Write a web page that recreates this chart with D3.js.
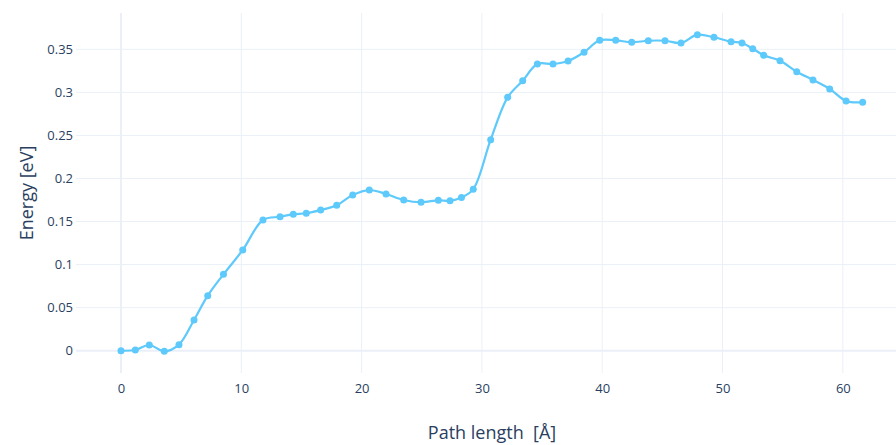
<!DOCTYPE html>
<html>
<head>
<meta charset="utf-8">
<script src="https://cdn.jsdelivr.net/npm/d3@7"></script>
<style>
  body { margin: 0; background: #fff; }
  #chart { width: 896px; height: 445px; }
  text { font-family: "Open Sans", sans-serif; fill: #2a3f5f; }
</style>
</head>
<body>
<div id="chart"></div>
<script>
// path length along the reaction coordinate [Å]
const pathLength = [0, 1.19, 2.35, 3.60, 4.82, 6.07, 7.21, 8.52, 10.12, 11.80,
  13.22, 14.32, 15.40, 16.60, 17.93, 19.26, 20.64, 22.03, 23.50, 24.94,
  26.38, 27.35, 28.30, 29.28, 30.73, 32.14, 33.39, 34.61, 35.91, 37.16,
  38.49, 39.79, 41.12, 42.45, 43.83, 45.22, 46.55, 47.91, 49.29, 50.71,
  51.62, 52.51, 53.42, 54.78, 56.17, 57.52, 58.91, 60.27, 61.65];
// energy [eV]
const energy = [0, 0.0008, 0.0066, -0.0007, 0.0070, 0.0357, 0.0639, 0.0887, 0.117, 0.1518,
  0.1556, 0.1584, 0.1596, 0.1634, 0.1689, 0.1808, 0.1866, 0.182, 0.175, 0.1724,
  0.1747, 0.1742, 0.1779, 0.1876, 0.2451, 0.2943, 0.3136, 0.333, 0.333, 0.3365,
  0.3466, 0.3605, 0.3605, 0.3582, 0.3600, 0.3600, 0.3574, 0.367, 0.364, 0.3589,
  0.3574, 0.3508, 0.3431, 0.3368, 0.324, 0.3144, 0.304, 0.290, 0.2885];
const xTicks = [0, 10, 20, 30, 40, 50, 60];
const yTicks = [0, 0.05, 0.1, 0.15, 0.2, 0.25, 0.3, 0.35];

const data = pathLength.map((x, i) => ({ x: x, y: energy[i] }));

const width = 896, height = 445;
const margin = { top: 13, right: 0, bottom: 72, left: 76 };
const plotW = width - margin.left - margin.right;
const plotH = height - margin.top - margin.bottom;

const svg = d3.select("#chart").append("svg")
  .attr("width", width)
  .attr("height", height);

const xScale = d3.scaleLinear().domain([-3.74, 64.42]).range([0, plotW]);
const yScale = d3.scaleLinear().domain([-0.0259, 0.3922]).range([plotH, 0]);

const g = svg.append("g").attr("transform", `translate(${margin.left},${margin.top})`);

// grid
g.append("g").selectAll("line").data(xTicks).enter().append("line")
  .attr("x1", d => xScale(d)).attr("x2", d => xScale(d))
  .attr("y1", 0).attr("y2", plotH)
  .attr("stroke", "#EBF0F8")
  .attr("stroke-width", d => d === 0 ? 2 : 1);

g.append("g").selectAll("line").data(yTicks).enter().append("line")
  .attr("x1", 0).attr("x2", plotW)
  .attr("y1", d => yScale(d)).attr("y2", d => yScale(d))
  .attr("stroke", "#EBF0F8")
  .attr("stroke-width", d => d === 0 ? 2 : 1);

// axes (labels only)
const xAxis = d3.axisBottom(xScale).tickValues(xTicks).tickSize(0).tickPadding(11);
g.append("g")
  .attr("transform", `translate(0,${plotH})`)
  .call(xAxis)
  .call(a => a.select(".domain").remove())
  .selectAll("text")
  .attr("font-size", 13)
  .style("font-family", "'Open Sans', sans-serif");

const yAxis = d3.axisLeft(yScale).tickValues(yTicks).tickSize(0).tickPadding(3)
  .tickFormat(d => +d.toFixed(2));
g.append("g")
  .call(yAxis)
  .call(a => a.select(".domain").remove())
  .selectAll("text")
  .attr("font-size", 13)
  .style("font-family", "'Open Sans', sans-serif");

// line + markers
const lineColor = "#5ec9fb";
const line = d3.line()
  .x(d => xScale(d.x))
  .y(d => yScale(d.y))
  .curve(d3.curveCatmullRom.alpha(0.5));

g.append("path")
  .datum(data)
  .attr("d", line)
  .attr("fill", "none")
  .attr("stroke", lineColor)
  .attr("stroke-width", 2.2);

g.append("g").selectAll("circle").data(data).enter().append("circle")
  .attr("cx", d => xScale(d.x))
  .attr("cy", d => yScale(d.y))
  .attr("r", 3.5)
  .attr("fill", lineColor);

// axis titles
svg.append("text")
  .attr("x", 492)
  .attr("y", 439)
  .attr("text-anchor", "middle")
  .attr("font-size", 18)
  .style("white-space", "pre")
  .text("Path length  [Å]");

svg.append("text")
  .attr("transform", "translate(33,193) rotate(-90)")
  .attr("text-anchor", "middle")
  .attr("font-size", 18)
  .text("Energy [eV]");
</script>
</body>
</html>
